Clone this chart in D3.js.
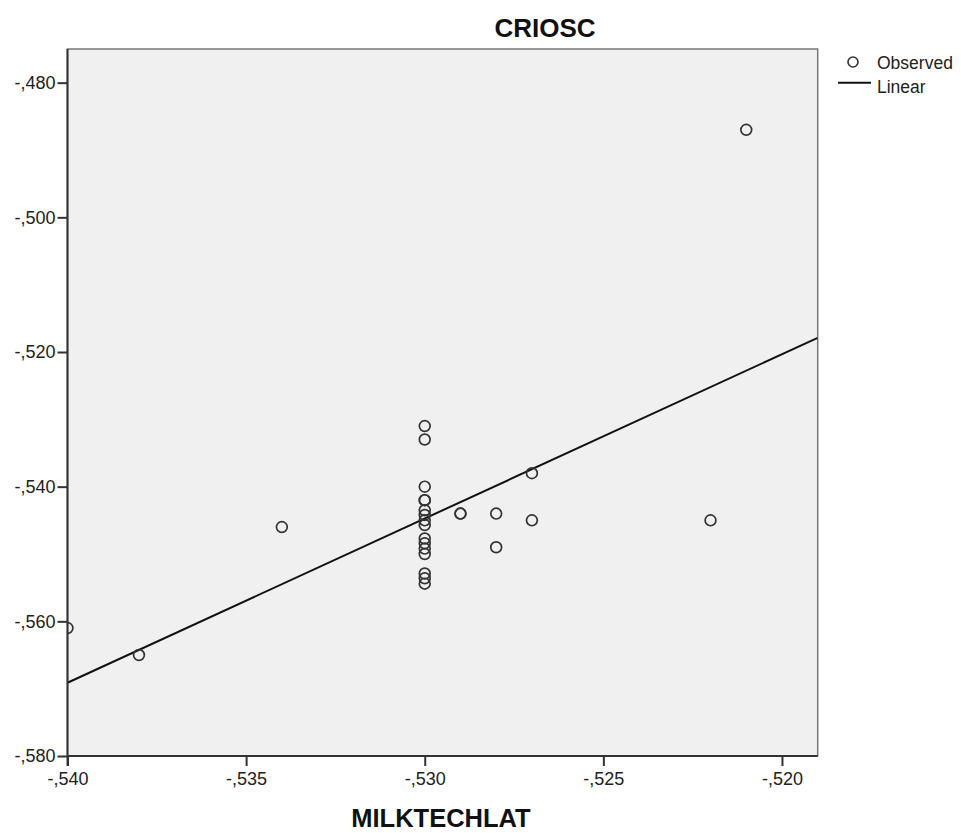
<!DOCTYPE html>
<html><head><meta charset="utf-8">
<script src="https://cdn.jsdelivr.net/npm/d3@7"></script>
<style>body{margin:0;background:#fff;}svg{display:block;font-family:"Liberation Sans",Arial,sans-serif;}</style>
</head><body>
<svg id="chart" width="961" height="833"></svg>
<script>
const titleText = "CRIOSC";
const xTitle = "MILKTECHLAT";
const legendLabels = ["Observed", "Linear"];
const xTicks = [-0.540, -0.535, -0.530, -0.525, -0.520];
const yTicks = [-0.580, -0.560, -0.540, -0.520, -0.500, -0.480];
const xDomain = [-0.540, -0.519];
const yDomain = [-0.580, -0.475];
// observed points (MILKTECHLAT, CRIOSC)
const xValues = [-0.540, -0.538, -0.534,
  -0.530, -0.530, -0.530, -0.530, -0.530, -0.530, -0.530, -0.530,
  -0.530, -0.530, -0.530, -0.530, -0.530, -0.530, -0.530, -0.530,
  -0.529, -0.529, -0.528, -0.528, -0.527, -0.527, -0.522, -0.521];
const yValues = [-0.561, -0.565, -0.546,
  -0.531, -0.533, -0.540, -0.542, -0.542, -0.5435, -0.5442, -0.545,
  -0.5457, -0.5477, -0.5484, -0.5492, -0.550, -0.5529, -0.5536, -0.5544,
  -0.544, -0.544, -0.544, -0.549, -0.538, -0.545, -0.545, -0.487];

const fmt = v => {
  const s = d3.format(".3f")(v);
  return s.replace("0.", ",").replace("−", "-");
};

const svg = d3.select("#chart");
const L = 67.5, R = 817.7, T = 49, B = 756;
const x = d3.scaleLinear().domain(xDomain).range([L, R]);
const y = d3.scaleLinear().domain(yDomain).range([B, T]);

svg.append("rect").attr("x", L).attr("y", T).attr("width", R - L).attr("height", B - T)
  .attr("fill", "#f0f0f0").attr("stroke", "#777").attr("stroke-width", 1.5);

svg.append("defs").append("clipPath").attr("id", "clip")
  .append("rect").attr("x", L).attr("y", T).attr("width", R - L).attr("height", B - T);

// regression line (least squares from observed points)
const pts = xValues.map((v, i) => [v, yValues[i]]);
const mx = d3.mean(xValues), my = d3.mean(yValues);
const slope = d3.sum(pts, p => (p[0] - mx) * (p[1] - my)) / d3.sum(pts, p => (p[0] - mx) ** 2);
const icpt = my - slope * mx;
const g = svg.append("g").attr("clip-path", "url(#clip)");
g.append("line")
  .attr("x1", x(xDomain[0])).attr("y1", y(icpt + slope * xDomain[0]))
  .attr("x2", x(xDomain[1])).attr("y2", y(icpt + slope * xDomain[1]))
  .attr("stroke", "#111").attr("stroke-width", 2);

g.selectAll("circle").data(pts).join("circle")
  .attr("cx", d => x(d[0])).attr("cy", d => y(d[1])).attr("r", 5.4)
  .attr("fill", "none").attr("stroke", "#333").attr("stroke-width", 1.7);

// axes
const xAxis = d3.axisBottom(x).tickValues(xTicks).tickFormat(fmt).tickSize(10).tickPadding(6);
const yAxis = d3.axisLeft(y).tickValues(yTicks).tickFormat(fmt).tickSize(10).tickPadding(2);
const gx = svg.append("g").attr("transform", `translate(0,${B})`).call(xAxis);
const gy = svg.append("g").attr("transform", `translate(${L},0)`).call(yAxis);
[gx, gy].forEach(a => {
  a.select(".domain").attr("stroke", "#333").attr("stroke-width", 2);
  a.selectAll(".tick line").attr("stroke", "#333").attr("stroke-width", 2);
  a.selectAll(".tick text").attr("fill", "#222").style("font-size", "18px")
    .style("font-family", "'Liberation Sans', Arial, sans-serif");
});
gy.select(".domain").attr("d", `M0,${B + 10}V${T}`);
gx.select(".domain").attr("d", `M${L},0H${R}`);

svg.append("text").attr("x", 545).attr("y", 36.5).attr("text-anchor", "middle")
  .style("font-weight", "bold").style("font-size", "26px").attr("fill", "#111").text(titleText);
svg.append("text").attr("x", 441).attr("y", 827).attr("text-anchor", "middle")
  .style("font-weight", "bold").style("font-size", "25.5px").attr("fill", "#111").text(xTitle);

// legend
const lg = svg.append("g");
lg.append("circle").attr("cx", 853).attr("cy", 62).attr("r", 5).attr("fill", "none")
  .attr("stroke", "#333").attr("stroke-width", 1.6);
lg.append("line").attr("x1", 838).attr("x2", 871).attr("y1", 82.7).attr("y2", 82.7)
  .attr("stroke", "#111").attr("stroke-width", 2);
lg.selectAll("text").data(legendLabels).join("text")
  .attr("x", 877).attr("y", (d, i) => 68.5 + i * 24.2)
  .style("font-size", "17.5px").attr("fill", "#222").text(d => d);
</script>
</body></html>
